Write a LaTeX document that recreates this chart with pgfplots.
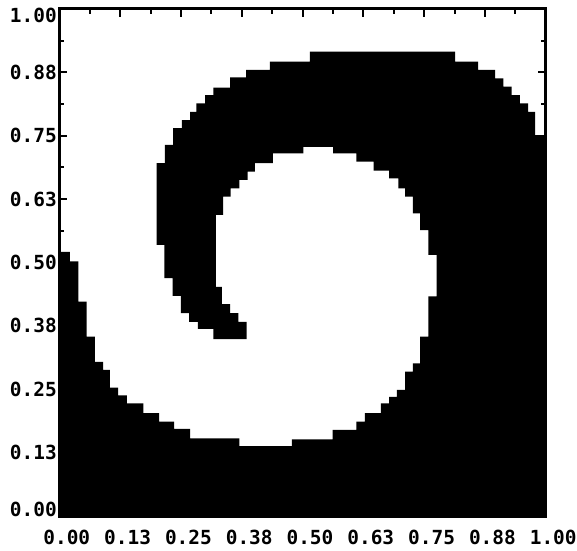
\documentclass[border=0pt]{standalone}
\usepackage{fontspec}
\setmonofont{DejaVu Sans Mono}
\usepackage{pgfplots}
\pgfplotsset{compat=1.18}

\begin{document}
\begin{tikzpicture}
\begin{axis}[
  name=ax,
  scale only axis,
  width=486.4bp, height=507bp,
  xmin=0, xmax=1, ymin=0, ymax=1,
  axis on top,
  axis line style={line width=3bp, black},
  xtick={0,0.125,0.25,0.375,0.5,0.625,0.75,0.875,1},
  ytick={0,0.125,0.25,0.375,0.5,0.625,0.75,0.875,1},
  minor xtick={0.0625,0.1875,0.3125,0.4375,0.5625,0.6875,0.8125,0.9375},
  minor ytick={0.0625,0.1875,0.3125,0.4375,0.5625,0.6875,0.8125,0.9375},
  xticklabels={0.00,0.13,0.25,0.38,0.50,0.63,0.75,0.88,1.00},
  yticklabels={\raisebox{7bp}[\height][\depth]{0.00},0.13,0.25,0.38,0.50,0.63,0.75,0.88,\raisebox{-6bp}[\height][\depth]{1.00}},
  tick align=inside,
  major tick length=8bp,
  minor tick length=5bp,
  tick style={line width=2bp, black},
  ticklabel style={font=\ttfamily\bfseries\fontsize{19.5}{19.5}\selectfont},
  xticklabel style={xshift=7.5bp, yshift=-11bp},
  yticklabel style={xshift=1bp},
]
% black region of the two-phase field (cell boundaries of the rolled-up interface)
\addplot[fill=black, draw=none] coordinates {
  (0,0) (1,0) (1,0.751)
  (0.978,0.751) (0.978,0.797) (0.964,0.797) (0.964,0.814)
  (0.947,0.814) (0.947,0.830) (0.930,0.830) (0.930,0.847)
  (0.913,0.847) (0.913,0.863) (0.896,0.863) (0.896,0.880)
  (0.861,0.880) (0.861,0.896) (0.814,0.896) (0.814,0.916)
  (0.515,0.916) (0.515,0.896) (0.433,0.896) (0.433,0.880)
  (0.384,0.880) (0.384,0.865) (0.351,0.865) (0.351,0.845)
  (0.317,0.845) (0.317,0.830) (0.300,0.830) (0.300,0.814)
  (0.282,0.814) (0.282,0.797) (0.269,0.797) (0.269,0.781)
  (0.252,0.781) (0.252,0.765) (0.234,0.765) (0.234,0.732)
  (0.217,0.732) (0.217,0.696) (0.200,0.696) (0.200,0.535)
  (0.216,0.535) (0.216,0.469) (0.233,0.469) (0.233,0.434)
  (0.250,0.434) (0.250,0.400) (0.267,0.400) (0.267,0.383)
  (0.285,0.383) (0.285,0.369) (0.317,0.369) (0.317,0.349)
  (0.385,0.349) (0.385,0.383) (0.368,0.383) (0.368,0.400)
  (0.351,0.400) (0.351,0.418) (0.334,0.418) (0.334,0.452)
  (0.322,0.452) (0.322,0.594) (0.337,0.594) (0.337,0.630)
  (0.352,0.630) (0.352,0.646) (0.370,0.646) (0.370,0.663)
  (0.387,0.663) (0.387,0.679) (0.402,0.679) (0.402,0.696)
  (0.439,0.696) (0.439,0.715) (0.502,0.715) (0.502,0.728)
  (0.563,0.728) (0.563,0.715) (0.611,0.715) (0.611,0.699)
  (0.646,0.699) (0.646,0.681) (0.678,0.681) (0.678,0.666)
  (0.697,0.666) (0.697,0.646) (0.711,0.646) (0.711,0.630)
  (0.727,0.630) (0.727,0.597) (0.742,0.597) (0.742,0.564)
  (0.759,0.564) (0.759,0.515) (0.776,0.515) (0.776,0.433)
  (0.759,0.433) (0.759,0.354) (0.742,0.354) (0.742,0.301)
  (0.727,0.301) (0.727,0.285) (0.711,0.285) (0.711,0.249)
  (0.694,0.249) (0.694,0.235) (0.678,0.235) (0.678,0.222)
  (0.661,0.222) (0.661,0.203) (0.628,0.203) (0.628,0.186)
  (0.611,0.186) (0.611,0.170) (0.562,0.170) (0.562,0.151)
  (0.478,0.151) (0.478,0.138) (0.370,0.138) (0.370,0.153)
  (0.269,0.153) (0.269,0.172) (0.236,0.172) (0.236,0.186)
  (0.205,0.186) (0.205,0.203) (0.173,0.203) (0.173,0.222)
  (0.139,0.222) (0.139,0.238) (0.121,0.238) (0.121,0.253)
  (0.104,0.253) (0.104,0.288) (0.090,0.288) (0.090,0.304)
  (0.073,0.304) (0.073,0.354) (0.056,0.354) (0.056,0.423)
  (0.039,0.423) (0.039,0.502) (0.022,0.502) (0.022,0.521)
  (0,0.521) (0,0)
};
\end{axis}
\pgfresetboundingbox
\path[use as bounding box] (ax.south west) ++(-59.3bp,-35bp) rectangle ++(577bp,551bp);
\end{tikzpicture}
\end{document}
